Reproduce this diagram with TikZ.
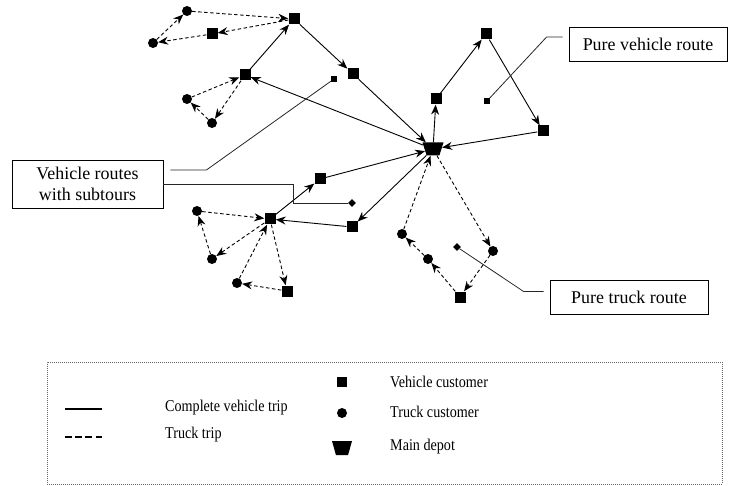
\documentclass[tikz,border=0pt]{standalone}
\usepackage{fontspec}
\setmainfont{Liberation Serif}
\newfontfamily\legfont{Liberation Serif}[FakeStretch=0.86]
\usetikzlibrary{arrows.meta,shapes.geometric,calc}

\begin{document}
\begin{tikzpicture}[x=1bp,y=-1bp,
    vcust/.style={rectangle,fill=black,inner sep=0pt,minimum size=11bp},
    tcust/.style={circle,fill=black,inner sep=0pt,minimum size=10bp},
    spot/.style={rectangle,fill=black,inner sep=0pt,minimum size=5.5bp},
    dspot/.style={diamond,fill=black,inner sep=0pt,minimum size=8bp},
    depot/.style={trapezium,fill=black,inner sep=1bp,trapezium stretches=true,
        trapezium left angle=72,trapezium right angle=72,shape border rotate=180,
        minimum width=21bp,minimum height=13bp},
    vtrip/.style={line width=0.9bp,-{Stealth[length=10bp,width=8bp]}},
    ttrip/.style={vtrip,dash pattern=on 3.5bp off 2.5bp},
    callout/.style={line width=0.8bp,draw=black!85},
    tag/.style={draw,line width=0.8bp,font=\fontsize{18}{21}\selectfont,align=center,
        inner sep=0pt,minimum width=158bp,minimum height=34bp},
    legtext/.style={font=\legfont\fontsize{16.5}{19}\selectfont,anchor=west,inner sep=0pt}]
\useasboundingbox (0,0) rectangle (737,486);

\node[depot] (d) at (433,149) {};

\node[vcust] (v1) at (294,19) {};
\node[vcust] (v2) at (212,34) {};
\node[vcust] (v3) at (353,74) {};
\node[vcust] (v4) at (245,75) {};
\node[vcust] (v5) at (436,99) {};
\node[vcust] (v6) at (486,34) {};
\node[vcust] (v7) at (543,131) {};
\node[vcust] (v8) at (320,179) {};
\node[vcust] (v9) at (352,227) {};
\node[vcust] (v10) at (270,219) {};
\node[vcust] (v11) at (287,291) {};
\node[vcust] (v12) at (460,297) {};

\node[tcust] (t1) at (187,11) {};
\node[tcust] (t2) at (153,43) {};
\node[tcust] (t3) at (187,99) {};
\node[tcust] (t4) at (212,123) {};
\node[tcust] (t5) at (197,211) {};
\node[tcust] (t6) at (212,259) {};
\node[tcust] (t7) at (237,283) {};
\node[tcust] (t8) at (402,234) {};
\node[tcust] (t9) at (428,259) {};
\node[tcust] (t10) at (493,251) {};

\node[spot] (p1) at (334,79) {};
\node[spot] (p2) at (487,101) {};
\node[dspot] (p3) at (352,203) {};
\node[dspot] (p4) at (457,247) {};

\draw[vtrip] (d) -- (v4);
\draw[vtrip] (v4) -- (v1);
\draw[vtrip] (v1) -- (v3);
\draw[vtrip] (v3) -- (d);
\draw[ttrip] (v1) -- (v2);
\draw[ttrip] (v2) -- (t2);
\draw[ttrip] (t2) -- (t1);
\draw[ttrip] (t1) -- (v1);
\draw[ttrip] (v4) -- (t4);
\draw[ttrip] (t4) -- (t3);
\draw[ttrip] (t3) -- (v4);

\draw[vtrip] (d) -- (v5);
\draw[vtrip] (v5) -- (v6);
\draw[vtrip] (v6) -- (v7);
\draw[vtrip] (v7) -- (d);

\draw[vtrip] (d) -- (v9);
\draw[vtrip] (v9) -- (v10);
\draw[vtrip] (v10) -- (v8);
\draw[vtrip] (v8) -- (d);
\draw[ttrip] (t5) -- (v10);
\draw[ttrip] (v10) -- (t6);
\draw[ttrip] (t6) -- (t5);
\draw[ttrip] (v10) -- (v11);
\draw[ttrip] (v11) -- (t7);
\draw[ttrip] (t7) -- (v10);

\draw[ttrip] (d) -- (t10);
\draw[ttrip] (t10) -- (v12);
\draw[ttrip] (v12) -- (t9);
\draw[ttrip] (t9) -- (t8);
\draw[ttrip] (t8) -- (d);

\node[tag] (pvr) at (648,44.5) {Pure vehicle route};
\node[tag,minimum width=151bp,minimum height=48bp] (vrs) at (87.5,184) {Vehicle routes\\with subtours};
\node[tag] (ptr) at (629,297.5) {Pure truck route};

\coordinate (pvrA) at ($(pvr.west)+(-6,-7.5)$);
\coordinate (vrsA) at ($(vrs.east)+(7,-14)$);
\coordinate (ptrA) at ($(ptr.west)+(-6,-6)$);
\draw[callout] (pvrA) -- ++(-16,0) -- (p2);
\draw[callout] (vrsA) -- ++(36,0) -- (p1);
\draw[callout] (vrs.east) -- ++(130,0) |- (p3);
\draw[callout] (ptrA) -- ++(-20,0) -- (p4);

\node[draw=black!60,line width=0.6bp,dash pattern=on 1bp off 1bp,inner sep=0pt,
    minimum width=675bp,minimum height=122bp] (legend) at (384.5,423) {};

\coordinate (la) at (65,409);
\coordinate (lb) at (102,409);
\coordinate (lc) at (65,437);
\coordinate (ld) at (102,437);
\draw[line width=1.8bp] (la) -- (lb);
\draw[line width=1.8bp,dash pattern=on 6.5bp off 3.7bp] (lc) -- (ld);
\node[legtext] (lt1) at (165,408) {Complete vehicle trip};
\node[legtext] (lt2) at (165,435) {Truck trip};

\node[vcust,minimum size=10bp] (lv) at (342,382) {};
\node[tcust] (lk) at (342,413) {};
\node[depot,minimum width=20bp,minimum height=14bp] (ldp) at (342,448) {};
\node[legtext] (lt3) at (390,382) {Vehicle customer};
\node[legtext] (lt4) at (390,412) {Truck customer};
\node[legtext] (lt5) at (390,447) {Main depot};
\end{tikzpicture}
\end{document}
